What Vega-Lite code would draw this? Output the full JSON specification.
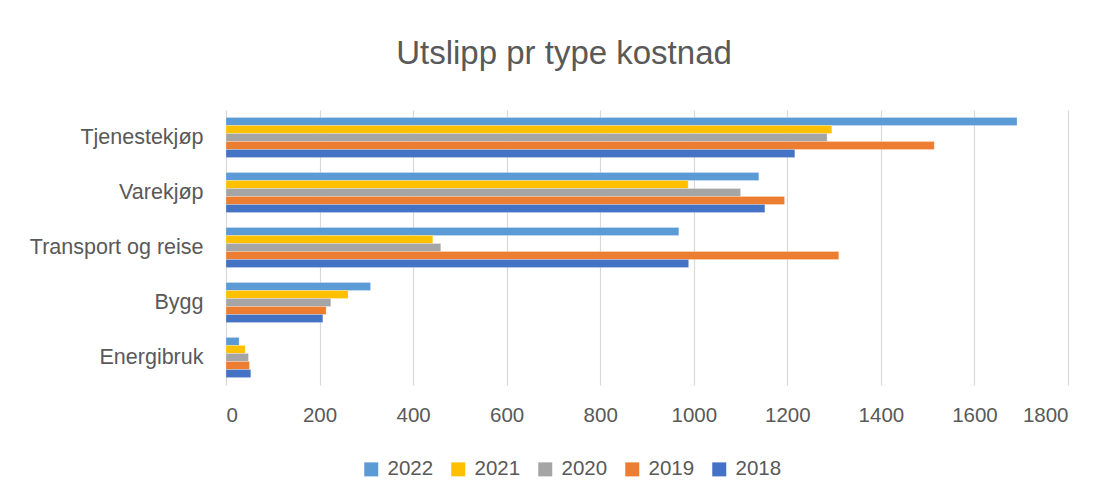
{
  "$schema": "https://vega.github.io/schema/vega-lite/v6.json",
  "autosize": {"type": "none"},
  "padding": {"left": 226, "top": 110, "right": 45, "bottom": 113},
  "width": 842,
  "height": 275,
  "background": "white",
  "title": {
    "text": "Utslipp pr type kostnad",
    "anchor": "middle",
    "frame": "group",
    "dx": -83,
    "offset": 13,
    "baseline": "alphabetic",
    "font": "Liberation Sans",
    "fontSize": 33,
    "fontWeight": "normal",
    "color": "#595959"
  },
  "data": {
    "values": [
      {"kategori": "Tjenestekjøp", "år": "2022", "utslipp": 1691},
      {"kategori": "Tjenestekjøp", "år": "2021", "utslipp": 1295},
      {"kategori": "Tjenestekjøp", "år": "2020", "utslipp": 1285},
      {"kategori": "Tjenestekjøp", "år": "2019", "utslipp": 1514},
      {"kategori": "Tjenestekjøp", "år": "2018", "utslipp": 1216},
      {"kategori": "Varekjøp", "år": "2022", "utslipp": 1139},
      {"kategori": "Varekjøp", "år": "2021", "utslipp": 988},
      {"kategori": "Varekjøp", "år": "2020", "utslipp": 1100},
      {"kategori": "Varekjøp", "år": "2019", "utslipp": 1194},
      {"kategori": "Varekjøp", "år": "2018", "utslipp": 1152},
      {"kategori": "Transport og reise", "år": "2022", "utslipp": 968},
      {"kategori": "Transport og reise", "år": "2021", "utslipp": 442},
      {"kategori": "Transport og reise", "år": "2020", "utslipp": 459},
      {"kategori": "Transport og reise", "år": "2019", "utslipp": 1310},
      {"kategori": "Transport og reise", "år": "2018", "utslipp": 989},
      {"kategori": "Bygg", "år": "2022", "utslipp": 309},
      {"kategori": "Bygg", "år": "2021", "utslipp": 261},
      {"kategori": "Bygg", "år": "2020", "utslipp": 224},
      {"kategori": "Bygg", "år": "2019", "utslipp": 214},
      {"kategori": "Bygg", "år": "2018", "utslipp": 207},
      {"kategori": "Energibruk", "år": "2022", "utslipp": 28},
      {"kategori": "Energibruk", "år": "2021", "utslipp": 41},
      {"kategori": "Energibruk", "år": "2020", "utslipp": 48},
      {"kategori": "Energibruk", "år": "2019", "utslipp": 50},
      {"kategori": "Energibruk", "år": "2018", "utslipp": 53}
    ]
  },
  "mark": {"type": "bar", "stroke": "white", "strokeWidth": 0.4, "strokeOpacity": 0.6},
  "encoding": {
    "y": {
      "field": "kategori",
      "type": "nominal",
      "sort": ["Tjenestekjøp", "Varekjøp", "Transport og reise", "Bygg", "Energibruk"],
      "scale": {"paddingInner": 0.27, "paddingOuter": 0.135},
      "axis": {
        "title": null,
        "ticks": false,
        "domain": false,
        "labelPadding": 23,
        "labelFont": "Liberation Sans",
        "labelFontSize": 21.5,
        "labelColor": "#595959"
      }
    },
    "yOffset": {
      "field": "år",
      "type": "nominal",
      "sort": ["2022", "2021", "2020", "2019", "2018"],
      "scale": {"paddingInner": 0, "paddingOuter": 0}
    },
    "x": {
      "field": "utslipp",
      "type": "quantitative",
      "scale": {"domain": [0, 1800], "nice": false},
      "axis": {
        "title": null,
        "values": [0, 200, 400, 600, 800, 1000, 1200, 1400, 1600, 1800],
        "format": "d",
        "ticks": false,
        "domain": false,
        "grid": true,
        "gridColor": "#d9d9d9",
        "gridWidth": 1.2,
        "labelPadding": 20,
        "labelFont": "Liberation Sans",
        "labelFontSize": 20.5,
        "labelColor": "#595959"
      }
    },
    "color": {
      "field": "år",
      "type": "nominal",
      "sort": ["2022", "2021", "2020", "2019", "2018"],
      "scale": {
        "domain": ["2022", "2021", "2020", "2019", "2018"],
        "range": ["#5B9BD5", "#FFC000", "#A5A5A5", "#ED7D31", "#4472C4"]
      },
      "legend": {
        "title": null,
        "orient": "none",
        "direction": "horizontal",
        "columns": 5,
        "legendX": 135,
        "legendY": 349,
        "padding": 0,
        "symbolType": "square",
        "symbolSize": 196,
        "symbolStrokeWidth": 0,
        "labelOffset": 6,
        "columnPadding": 14,
        "labelFont": "Liberation Sans",
        "labelFontSize": 20.5,
        "labelColor": "#595959"
      }
    }
  },
  "config": {
    "view": {"stroke": null},
    "axis": {"gridCap": "butt"}
  }
}
